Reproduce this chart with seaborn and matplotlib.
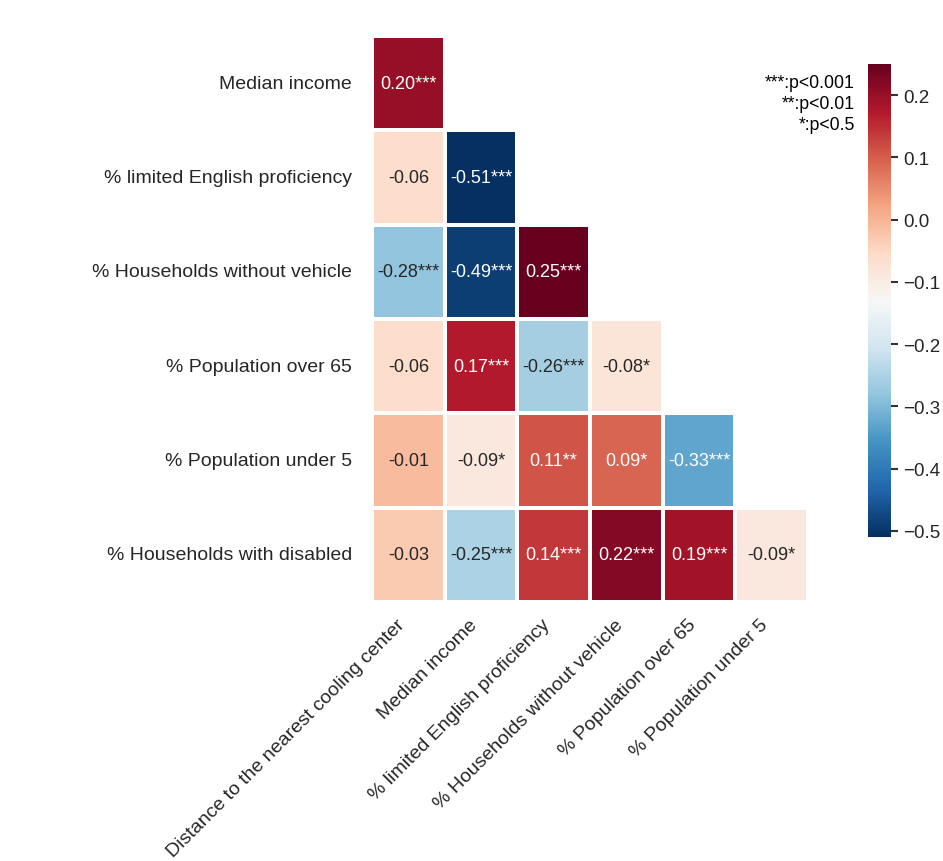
import numpy as np
import pandas as pd
import matplotlib
matplotlib.use("Agg")
import matplotlib.pyplot as plt
import seaborn as sns

row_labels = [
    "Median income",
    "% limited English proficiency",
    "% Households without vehicle",
    "% Population over 65",
    "% Population under 5",
    "% Households with disabled",
]
col_labels = [
    "Distance to the nearest cooling center",
    "Median income",
    "% limited English proficiency",
    "% Households without vehicle",
    "% Population over 65",
    "% Population under 5",
]

# lower-triangle correlation coefficients, one list per row
r_median_income = [0.20]
r_limited_english = [-0.06, -0.51]
r_no_vehicle = [-0.28, -0.49, 0.25]
r_over_65 = [-0.06, 0.17, -0.26, -0.08]
r_under_5 = [-0.01, -0.09, 0.11, 0.09, -0.33]
r_disabled = [-0.03, -0.25, 0.14, 0.22, 0.19, -0.09]

# significance markers for each coefficient
s_median_income = ["***"]
s_limited_english = ["", "***"]
s_no_vehicle = ["***", "***", "***"]
s_over_65 = ["", "***", "***", "*"]
s_under_5 = ["", "*", "**", "*", "***"]
s_disabled = ["", "***", "***", "***", "***", "*"]

rows = [r_median_income, r_limited_english, r_no_vehicle, r_over_65, r_under_5, r_disabled]
stars = [s_median_income, s_limited_english, s_no_vehicle, s_over_65, s_under_5, s_disabled]

n = len(row_labels)
vals = np.full((n, n), np.nan)
annot = np.full((n, n), "", dtype=object)
for i, (rv, sv) in enumerate(zip(rows, stars)):
    for j, (v, s) in enumerate(zip(rv, sv)):
        vals[i, j] = v
        annot[i, j] = f"{v:.2f}{s}"

df = pd.DataFrame(vals, index=row_labels, columns=col_labels)
mask = np.isnan(vals)

sns.set_theme(style="white")
plt.rcParams["font.family"] = ["Liberation Sans", "DejaVu Sans"]

W, H = 943, 862
fig = plt.figure(figsize=(W / 100, H / 100), dpi=100)
ax = fig.add_axes([372 / W, 1 - 603 / H, 436 / W, 566 / H])
cax = fig.add_axes([868 / W, 1 - 538 / H, 23 / W, 473 / H])

sns.heatmap(
    df, mask=mask, cmap="RdBu_r", annot=annot, fmt="",
    linewidths=1.5, linecolor="white",
    annot_kws={"fontsize": 13},
    ax=ax, cbar_ax=cax,
)

ax.tick_params(axis="y", length=0, labelsize=14, pad=14.5)
ax.tick_params(axis="x", length=0, labelsize=14, pad=10)
ax.set_xticklabels(ax.get_xticklabels(), rotation=45, ha="right")
ax.set_yticklabels(ax.get_yticklabels(), rotation=0)
ax.set_xlabel("")
ax.set_ylabel("")

cax.tick_params(length=5, width=1.5, color="#333333", labelsize=13.5, pad=4, right=True)
cax.set_yticks([0.2, 0.1, 0.0, -0.1, -0.2, -0.3, -0.4, -0.5])
for s in cax.spines.values():
    s.set_visible(False)

fig.text(855 / W, 1 - 75 / H, "***:p<0.001\n**:p<0.01\n*:p<0.5",
         ha="right", va="top", fontsize=12.7, color="black", linespacing=1.3)

fig.savefig("out.png", dpi=100, facecolor="white")
